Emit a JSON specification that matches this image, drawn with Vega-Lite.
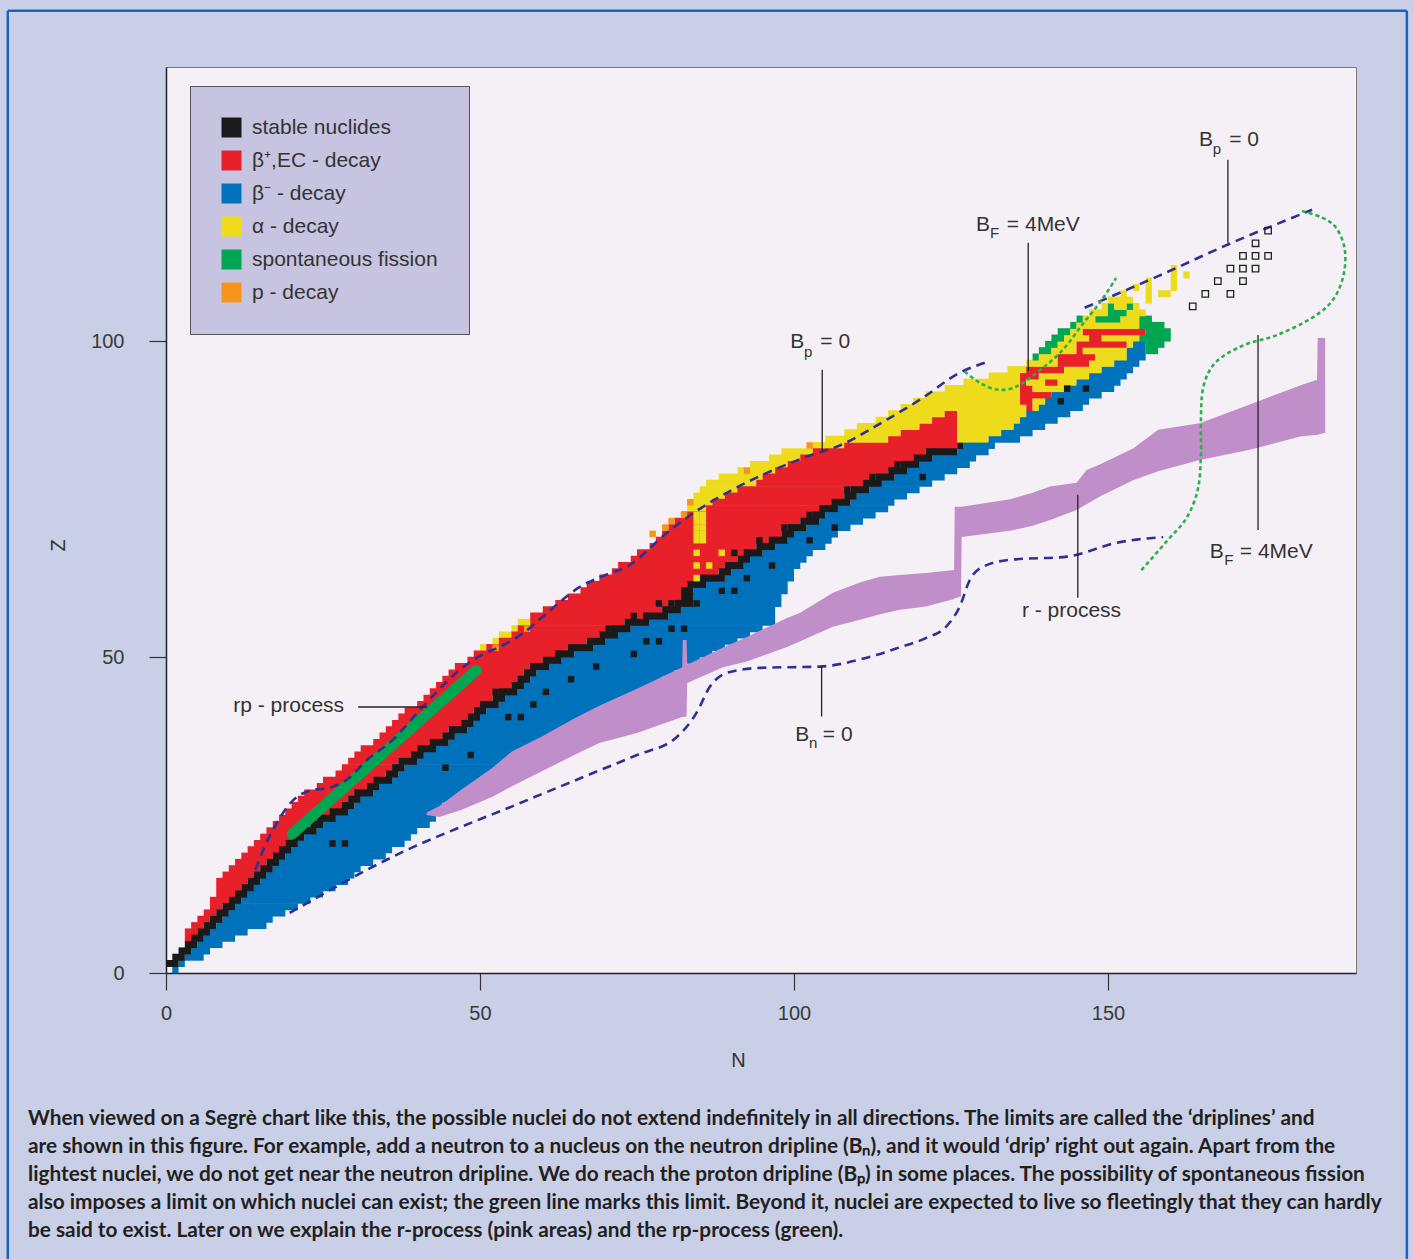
{
"$schema": "https://vega.github.io/schema/vega-lite/v6.json",
"width": 1190, "height": 906,
"autosize": {"type": "none"},
"padding": {"left": 166, "top": 67, "right": 57, "bottom": 286},
"background": "#c8cfe7",
"config": {
 "view": {"fill": "#f5f0f5", "stroke": "#7a7a7a", "strokeWidth": 1},
 "font": "Liberation Sans",
 "axis": {"grid": false, "tickSize": 17, "tickColor": "#333", "tickWidth": 1.2, "domainColor": "#222", "domainWidth": 1.5,
  "labelFontSize": 20, "labelColor": "#3a3a3a", "labelFlush": false, "labelOverlap": false, "labelFont": "Liberation Sans",
  "titleFontSize": 20, "titleFontWeight": "normal", "titleColor": "#333", "titleFont": "Liberation Sans", "zindex": 1},
 "axisX": {"labelPadding": 13, "titleX": 572, "titleY": 87, "titleBaseline": "middle"},
 "axisY": {"labelPadding": 25, "titleX": -108, "titleY": 478, "titleBaseline": "middle", "titleAngle": -90}
},
"datasets": {
"rows": [
{"z":0,"l":1,"r":1,"s":1,"e":1,"m":2},
{"z":1,"l":0,"r":0,"s":0,"e":2,"m":3},
{"z":2,"l":1,"r":1,"s":1,"e":3,"m":6},
{"z":3,"l":2,"r":2,"s":2,"e":4,"m":7},
{"z":4,"l":3,"r":3,"s":3,"e":5,"m":9},
{"z":5,"l":3,"r":3,"s":4,"e":6,"m":11},
{"z":6,"l":3,"r":3,"s":5,"e":7,"m":13},
{"z":7,"l":4,"r":4,"s":6,"e":8,"m":16},
{"z":8,"l":5,"r":5,"s":7,"e":9,"m":17},
{"z":9,"l":6,"r":6,"s":8,"e":10,"m":19},
{"z":10,"l":7,"r":7,"s":9,"e":11,"m":21},
{"z":11,"l":7,"r":7,"s":10,"e":12,"m":23},
{"z":12,"l":8,"r":8,"s":11,"e":13,"m":25},
{"z":13,"l":8,"r":8,"s":12,"e":14,"m":27},
{"z":14,"l":8,"r":8,"s":13,"e":15,"m":29},
{"z":15,"l":9,"r":9,"s":14,"e":16,"m":30},
{"z":16,"l":10,"r":10,"s":15,"e":17,"m":31},
{"z":17,"l":11,"r":11,"s":16,"e":18,"m":33},
{"z":18,"l":12,"r":12,"s":17,"e":19,"m":35},
{"z":19,"l":13,"r":13,"s":18,"e":20,"m":36},
{"z":20,"l":14,"r":14,"s":19,"e":21,"m":38},
{"z":21,"l":15,"r":15,"s":20,"e":22,"m":39},
{"z":22,"l":16,"r":16,"s":21,"e":24,"m":40},
{"z":23,"l":17,"r":17,"s":23,"e":25,"m":42},
{"z":24,"l":18,"r":18,"s":24,"e":27,"m":43},
{"z":25,"l":19,"r":19,"s":26,"e":29,"m":44},
{"z":26,"l":20,"r":20,"s":28,"e":30,"m":44},
{"z":27,"l":21,"r":21,"s":29,"e":31,"m":46},
{"z":28,"l":22,"r":22,"s":30,"e":33,"m":48},
{"z":29,"l":24,"r":24,"s":32,"e":34,"m":49},
{"z":30,"l":25,"r":25,"s":33,"e":36,"m":51},
{"z":31,"l":27,"r":27,"s":35,"e":37,"m":53},
{"z":32,"l":28,"r":28,"s":36,"e":38,"m":55},
{"z":33,"l":29,"r":29,"s":37,"e":40,"m":56},
{"z":34,"l":30,"r":30,"s":39,"e":41,"m":58},
{"z":35,"l":31,"r":31,"s":40,"e":43,"m":60},
{"z":36,"l":33,"r":33,"s":42,"e":45,"m":62},
{"z":37,"l":34,"r":34,"s":44,"e":46,"m":63},
{"z":38,"l":35,"r":35,"s":45,"e":48,"m":65},
{"z":39,"l":36,"r":36,"s":47,"e":49,"m":67},
{"z":40,"l":37,"r":37,"s":48,"e":50,"m":69},
{"z":41,"l":38,"r":38,"s":49,"e":51,"m":70},
{"z":42,"l":40,"r":40,"s":50,"e":53,"m":72},
{"z":43,"l":41,"r":41,"s":52,"e":54,"m":74},
{"z":44,"l":42,"r":42,"s":53,"e":56,"m":76},
{"z":45,"l":43,"r":43,"s":55,"e":57,"m":78},
{"z":46,"l":44,"r":44,"s":56,"e":58,"m":79},
{"z":47,"l":45,"r":45,"s":57,"e":59,"m":81},
{"z":48,"l":46,"r":46,"s":58,"e":61,"m":83},
{"z":49,"l":48,"r":48,"s":60,"e":63,"m":85},
{"z":50,"l":49,"r":49,"s":62,"e":65,"m":87},
{"z":51,"l":50,"r":51,"s":64,"e":68,"m":89},
{"z":52,"l":52,"r":53,"s":67,"e":70,"m":91},
{"z":53,"l":53,"r":55,"s":69,"e":72,"m":93},
{"z":54,"l":55,"r":56,"s":71,"e":74,"m":95},
{"z":55,"l":56,"r":58,"s":73,"e":77,"m":97},
{"z":56,"l":58,"r":58,"s":76,"e":80,"m":97},
{"z":57,"l":60,"r":60,"s":79,"e":82,"m":97},
{"z":58,"l":62,"r":62,"s":81,"e":84,"m":98},
{"z":59,"l":64,"r":64,"s":82,"e":84,"m":98},
{"z":60,"l":66,"r":66,"s":82,"e":84,"m":99},
{"z":61,"l":67,"r":67,"s":83,"e":86,"m":99},
{"z":62,"l":69,"r":69,"s":85,"e":89,"m":100},
{"z":63,"l":71,"r":71,"s":88,"e":90,"m":100},
{"z":64,"l":72,"r":72,"s":89,"e":92,"m":101},
{"z":65,"l":74,"r":74,"s":91,"e":93,"m":102},
{"z":66,"l":75,"r":75,"s":92,"e":95,"m":103},
{"z":67,"l":77,"r":77,"s":94,"e":97,"m":105},
{"z":68,"l":78,"r":78,"s":96,"e":99,"m":106},
{"z":69,"l":79,"r":79,"s":98,"e":100,"m":107},
{"z":70,"l":80,"r":80,"s":99,"e":102,"m":109},
{"z":71,"l":81,"r":81,"s":101,"e":104,"m":111},
{"z":72,"l":82,"r":82,"s":103,"e":105,"m":113},
{"z":73,"l":83,"r":86,"s":104,"e":107,"m":115},
{"z":74,"l":83,"r":87,"s":106,"e":109,"m":116},
{"z":75,"l":84,"r":89,"s":108,"e":110,"m":118},
{"z":76,"l":85,"r":91,"s":109,"e":112,"m":120},
{"z":77,"l":86,"r":94,"s":111,"e":114,"m":122},
{"z":78,"l":88,"r":95,"s":113,"e":116,"m":124},
{"z":79,"l":91,"r":97,"s":115,"e":118,"m":126},
{"z":80,"l":93,"r":99,"s":117,"e":120,"m":128},
{"z":81,"l":96,"r":101,"s":119,"e":122,"m":129},
{"z":82,"l":98,"r":103,"s":121,"e":126,"m":131},
{"z":83,"l":103,"r":108,"s":126,"e":127,"m":132}
],
"segs": [
{"z":84,"a":105,"b":115,"t":"a"},{"z":84,"a":115,"b":126,"t":"r"},{"z":84,"a":126,"b":131,"t":"a"},{"z":84,"a":131,"b":136,"t":"b"},
{"z":85,"a":108,"b":117,"t":"a"},{"z":85,"a":117,"b":126,"t":"r"},{"z":85,"a":126,"b":133,"t":"a"},{"z":85,"a":133,"b":138,"t":"b"},
{"z":86,"a":110,"b":120,"t":"a"},{"z":86,"a":120,"b":126,"t":"r"},{"z":86,"a":126,"b":135,"t":"a"},{"z":86,"a":135,"b":140,"t":"b"},
{"z":87,"a":113,"b":122,"t":"a"},{"z":87,"a":122,"b":126,"t":"r"},{"z":87,"a":126,"b":136,"t":"a"},{"z":87,"a":136,"b":142,"t":"b"},
{"z":88,"a":115,"b":124,"t":"a"},{"z":88,"a":124,"b":126,"t":"r"},{"z":88,"a":126,"b":137,"t":"a"},{"z":88,"a":137,"b":144,"t":"b"},
{"z":89,"a":117,"b":137,"t":"a"},{"z":89,"a":137,"b":138,"t":"r"},{"z":89,"a":138,"b":139,"t":"a"},{"z":89,"a":139,"b":146,"t":"b"},
{"z":90,"a":119,"b":136,"t":"a"},{"z":90,"a":136,"b":138,"t":"r"},{"z":90,"a":138,"b":140,"t":"a"},{"z":90,"a":140,"b":147,"t":"b"},
{"z":91,"a":121,"b":136,"t":"a"},{"z":91,"a":136,"b":141,"t":"r"},{"z":91,"a":141,"b":149,"t":"b"},
{"z":92,"a":124,"b":136,"t":"a"},{"z":92,"a":136,"b":138,"t":"r"},{"z":92,"a":138,"b":143,"t":"a"},{"z":92,"a":143,"b":151,"t":"b"},
{"z":93,"a":127,"b":136,"t":"a"},{"z":93,"a":136,"b":137,"t":"r"},{"z":93,"a":137,"b":140,"t":"a"},{"z":93,"a":140,"b":142,"t":"r"},{"z":93,"a":142,"b":145,"t":"a"},{"z":93,"a":145,"b":152,"t":"b"},
{"z":94,"a":131,"b":136,"t":"a"},{"z":94,"a":136,"b":139,"t":"r"},{"z":94,"a":139,"b":147,"t":"a"},{"z":94,"a":147,"b":153,"t":"b"},
{"z":95,"a":134,"b":137,"t":"a"},{"z":95,"a":137,"b":143,"t":"r"},{"z":95,"a":143,"b":149,"t":"a"},{"z":95,"a":149,"b":154,"t":"b"},
{"z":96,"a":137,"b":142,"t":"a"},{"z":96,"a":142,"b":147,"t":"r"},{"z":96,"a":147,"b":151,"t":"a"},{"z":96,"a":151,"b":155,"t":"b"},
{"z":97,"a":138,"b":139,"t":"f"},{"z":97,"a":139,"b":142,"t":"a"},{"z":97,"a":142,"b":148,"t":"r"},{"z":97,"a":148,"b":153,"t":"a"},{"z":97,"a":153,"b":156,"t":"b"},
{"z":98,"a":139,"b":141,"t":"f"},{"z":98,"a":141,"b":145,"t":"a"},{"z":98,"a":145,"b":146,"t":"r"},{"z":98,"a":146,"b":153,"t":"a"},{"z":98,"a":153,"b":156,"t":"b"},{"z":98,"a":156,"b":158,"t":"f"},
{"z":99,"a":140,"b":142,"t":"f"},{"z":99,"a":142,"b":145,"t":"a"},{"z":99,"a":145,"b":153,"t":"r"},{"z":99,"a":153,"b":154,"t":"a"},{"z":99,"a":154,"b":156,"t":"b"},{"z":99,"a":156,"b":159,"t":"f"},
{"z":100,"a":141,"b":143,"t":"f"},{"z":100,"a":143,"b":147,"t":"a"},{"z":100,"a":147,"b":149,"t":"r"},{"z":100,"a":149,"b":155,"t":"a"},{"z":100,"a":155,"b":160,"t":"f"},
{"z":101,"a":142,"b":144,"t":"f"},{"z":101,"a":144,"b":146,"t":"a"},{"z":101,"a":146,"b":156,"t":"r"},{"z":101,"a":156,"b":160,"t":"f"},
{"z":102,"a":144,"b":145,"t":"f"},{"z":102,"a":145,"b":155,"t":"a"},{"z":102,"a":155,"b":159,"t":"f"},
{"z":103,"a":145,"b":146,"t":"f"},{"z":103,"a":146,"b":148,"t":"a"},{"z":103,"a":148,"b":152,"t":"f"},{"z":103,"a":152,"b":155,"t":"a"},{"z":103,"a":155,"b":157,"t":"f"},
{"z":104,"a":147,"b":150,"t":"a"},{"z":104,"a":150,"b":153,"t":"f"},{"z":104,"a":153,"b":156,"t":"a"},
{"z":105,"a":149,"b":150,"t":"a"},{"z":105,"a":150,"b":151,"t":"f"},{"z":105,"a":151,"b":153,"t":"a"},{"z":105,"a":153,"b":154,"t":"f"},{"z":105,"a":154,"b":155,"t":"a"},
{"z":106,"a":150,"b":154,"t":"a"},{"z":106,"a":156,"b":157,"t":"a"},
{"z":107,"a":152,"b":153,"t":"a"},{"z":107,"a":156,"b":157,"t":"a"},{"z":107,"a":158,"b":160,"t":"a"},
{"z":108,"a":154,"b":155,"t":"a"},{"z":108,"a":156,"b":157,"t":"a"},{"z":108,"a":160,"b":161,"t":"a"},
{"z":109,"a":156,"b":157,"t":"a"},{"z":109,"a":160,"b":161,"t":"a"},
{"z":110,"a":160,"b":161,"t":"a"},{"z":110,"a":162,"b":163,"t":"a"},
{"z":111,"a":160,"b":161,"t":"a"}
],
"cells": [
{"n":26,"z":20,"t":"s"},{"n":28,"z":20,"t":"s"},{"n":26,"z":24,"t":"s"},{"n":28,"z":26,"t":"s"},{"n":30,"z":28,"t":"s"},
{"n":40,"z":34,"t":"s"},{"n":42,"z":36,"t":"s"},{"n":44,"z":32,"t":"s"},{"n":48,"z":34,"t":"s"},{"n":46,"z":38,"t":"s"},
{"n":50,"z":42,"t":"s"},{"n":52,"z":44,"t":"s"},{"n":54,"z":40,"t":"s"},{"n":56,"z":40,"t":"s"},{"n":56,"z":46,"t":"s"},
{"n":58,"z":42,"t":"s"},{"n":58,"z":48,"t":"s"},{"n":60,"z":44,"t":"s"},{"n":62,"z":50,"t":"s"},{"n":64,"z":46,"t":"s"},
{"n":68,"z":48,"t":"s"},{"n":68,"z":52,"t":"s"},{"n":70,"z":54,"t":"s"},{"n":72,"z":54,"t":"s"},{"n":74,"z":50,"t":"s"},
{"n":74,"z":56,"t":"s"},{"n":76,"z":56,"t":"s"},{"n":76,"z":52,"t":"s"},{"n":78,"z":52,"t":"s"},{"n":78,"z":58,"t":"s"},
{"n":80,"z":58,"t":"s"},{"n":80,"z":54,"t":"s"},{"n":82,"z":54,"t":"s"},{"n":84,"z":58,"t":"s"},{"n":88,"z":60,"t":"s"},
{"n":90,"z":60,"t":"s"},{"n":92,"z":62,"t":"s"},{"n":90,"z":66,"t":"s"},{"n":92,"z":66,"t":"s"},{"n":94,"z":68,"t":"s"},
{"n":96,"z":68,"t":"s"},{"n":96,"z":64,"t":"s"},{"n":98,"z":70,"t":"s"},{"n":102,"z":72,"t":"s"},{"n":102,"z":68,"t":"s"},
{"n":106,"z":74,"t":"s"},{"n":106,"z":70,"t":"s"},{"n":108,"z":76,"t":"s"},{"n":112,"z":78,"t":"s"},{"n":116,"z":80,"t":"s"},
{"n":120,"z":78,"t":"s"},{"n":142,"z":90,"t":"s"},{"n":143,"z":92,"t":"s"},{"n":146,"z":92,"t":"s"},
{"n":84,"z":66,"t":"a"},{"n":88,"z":66,"t":"a"},{"n":84,"z":64,"t":"a"},{"n":86,"z":64,"t":"a"},{"n":84,"z":62,"t":"a"},
{"n":84,"z":68,"t":"a"},{"n":85,"z":68,"t":"a"},{"n":84,"z":69,"t":"a"},{"n":85,"z":69,"t":"a"},{"n":84,"z":70,"t":"a"},{"n":85,"z":70,"t":"a"},{"n":84,"z":71,"t":"a"},{"n":85,"z":71,"t":"a"},{"n":84,"z":72,"t":"a"},{"n":85,"z":72,"t":"a"},
{"n":52,"z":51,"t":"p"},{"n":57,"z":54,"t":"p"},{"n":77,"z":69,"t":"p"},{"n":79,"z":70,"t":"p"},{"n":80,"z":71,"t":"p"},
{"n":82,"z":72,"t":"p"},{"n":83,"z":74,"t":"p"},{"n":92,"z":79,"t":"p"},{"n":102,"z":83,"t":"p"}
],
"rp": [
{"n":41.5,"lo":25.0,"hi":25.4},{"n":43.5,"lo":24.7,"hi":26.4},{"n":47,"lo":25.8,"hi":29},{"n":52,"lo":27.9,"hi":32.5},
{"n":55,"lo":29.5,"hi":35},{"n":60,"lo":32,"hi":37.5},{"n":65,"lo":34.5,"hi":40.3},{"n":69,"lo":36.4,"hi":42.3},
{"n":75,"lo":38,"hi":45},{"n":82.2,"lo":40.5,"hi":48.4},{"n":82.3,"lo":40.5,"hi":52.7},{"n":82.9,"lo":40.6,"hi":52.7},
{"n":83,"lo":45.9,"hi":48.8},{"n":88.7,"lo":48.4,"hi":51.5},{"n":92.5,"lo":49.3,"hi":53.2},{"n":98.9,"lo":51.6,"hi":56.2},
{"n":101,"lo":52.5,"hi":57},{"n":106.2,"lo":54.8,"hi":60.2},{"n":110.5,"lo":55.9,"hi":61.8},{"n":113.7,"lo":56.8,"hi":62.7},
{"n":116.9,"lo":57.5,"hi":63},{"n":121,"lo":58,"hi":63.3},{"n":125.5,"lo":59.2,"hi":63.8},{"n":125.6,"lo":59.3,"hi":73.8},
{"n":126.6,"lo":59.6,"hi":73.8},{"n":126.7,"lo":69,"hi":73.8},{"n":134.4,"lo":70,"hi":75},{"n":138,"lo":70.8,"hi":76},
{"n":140.8,"lo":71.7,"hi":77},{"n":145,"lo":73.3,"hi":77.6},{"n":146.6,"lo":74.2,"hi":79.6},{"n":148.7,"lo":75.4,"hi":80.5},
{"n":154,"lo":78,"hi":83},{"n":158,"lo":79.4,"hi":86},{"n":164.6,"lo":81.2,"hi":87},{"n":172.6,"lo":82.8,"hi":90},
{"n":180.6,"lo":84.9,"hi":93},{"n":183.3,"lo":85.2,"hi":93.9},{"n":183.4,"lo":85.2,"hi":100.5},{"n":184.6,"lo":85.5,"hi":100.5}
],
"drip": [
{"g":"A","i":0,"n":14.2,"z":16.3},{"g":"A","i":1,"n":15.5,"z":19.5},{"g":"A","i":2,"n":17.5,"z":23.5},{"g":"A","i":3,"n":20.3,"z":27.4},
{"g":"A","i":4,"n":22.4,"z":28.7},{"g":"A","i":5,"n":26.6,"z":29.5},{"g":"A","i":6,"n":28.8,"z":30.6},{"g":"A","i":7,"n":32,"z":33.7},
{"g":"A","i":8,"n":36.1,"z":36.9},{"g":"A","i":9,"n":40.4,"z":41.6},{"g":"A","i":10,"n":43.6,"z":45},{"g":"A","i":11,"n":46.8,"z":48},
{"g":"A","i":12,"n":50,"z":50.2},{"g":"A","i":13,"n":53.5,"z":51.8},{"g":"A","i":14,"n":56.9,"z":53.8},{"g":"A","i":15,"n":60.7,"z":57},
{"g":"A","i":16,"n":65.9,"z":61.1},{"g":"A","i":17,"n":70,"z":63},{"g":"A","i":18,"n":73.4,"z":64.3},{"g":"A","i":19,"n":79.8,"z":69.7},
{"g":"A","i":20,"n":84,"z":72.8},{"g":"A","i":21,"n":89.3,"z":76},{"g":"A","i":22,"n":96.7,"z":79.6},{"g":"A","i":23,"n":102,"z":81.7},
{"g":"A","i":24,"n":107.3,"z":83.5},{"g":"A","i":25,"n":114.8,"z":87.6},{"g":"A","i":26,"n":120,"z":90.7},{"g":"A","i":27,"n":126.4,"z":95},
{"g":"A","i":28,"n":131,"z":96.8},
{"g":"B","i":0,"n":146.3,"z":105.3},{"g":"B","i":1,"n":158,"z":110.3},{"g":"B","i":2,"n":169.1,"z":115.3},{"g":"B","i":3,"n":182.5,"z":120.8},
{"g":"C","i":0,"n":19.7,"z":9.5},{"g":"C","i":1,"n":36.1,"z":18.4},{"g":"C","i":2,"n":56.4,"z":26.9},{"g":"C","i":3,"n":69.1,"z":32.1},
{"g":"C","i":4,"n":75,"z":34.5},{"g":"C","i":5,"n":81.4,"z":37.4},{"g":"C","i":6,"n":84.5,"z":41.2},{"g":"C","i":7,"n":86.6,"z":45.3},
{"g":"C","i":8,"n":89.3,"z":47.5},{"g":"C","i":9,"n":94.6,"z":48.3},{"g":"C","i":10,"n":104.1,"z":48.5},{"g":"C","i":11,"n":111.6,"z":49.9},
{"g":"C","i":12,"n":117,"z":51.6},{"g":"C","i":13,"n":121,"z":53},{"g":"C","i":14,"n":124.4,"z":55},{"g":"C","i":15,"n":126.4,"z":58},
{"g":"C","i":16,"n":128,"z":62.2},{"g":"C","i":17,"n":130.1,"z":64.3},{"g":"C","i":18,"n":134.4,"z":65.4},{"g":"C","i":19,"n":143.5,"z":65.9},
{"g":"C","i":20,"n":151.4,"z":68.1},{"g":"C","i":21,"n":158.8,"z":69}
],
"fis": [
{"g":"F1","i":0,"n":127.2,"z":95.2},{"g":"F1","i":1,"n":129.3,"z":93.6},{"g":"F1","i":2,"n":132,"z":92.4},{"g":"F1","i":3,"n":134.9,"z":92.6},
{"g":"F1","i":4,"n":138,"z":94.5},{"g":"F1","i":5,"n":142.5,"z":98.3},{"g":"F1","i":6,"n":145.9,"z":102.6},{"g":"F1","i":7,"n":149,"z":106.5},
{"g":"F1","i":8,"n":151.3,"z":110},
{"g":"F2","i":0,"n":180.9,"z":120.6},{"g":"F2","i":1,"n":184,"z":119.6},{"g":"F2","i":2,"n":186.3,"z":118},{"g":"F2","i":3,"n":187.7,"z":114.6},
{"g":"F2","i":4,"n":187.5,"z":110.4},{"g":"F2","i":5,"n":185.8,"z":106.5},{"g":"F2","i":6,"n":182.5,"z":103.7},{"g":"F2","i":7,"n":177,"z":101},
{"g":"F2","i":8,"n":171.7,"z":99.4},{"g":"F2","i":9,"n":167.2,"z":96.7},{"g":"F2","i":10,"n":165.2,"z":92.8},{"g":"F2","i":11,"n":164.8,"z":87.4},
{"g":"F2","i":12,"n":164.8,"z":81.9},{"g":"F2","i":13,"n":164.3,"z":76.5},{"g":"F2","i":14,"n":162.5,"z":72},{"g":"F2","i":15,"n":159.5,"z":68.5},
{"g":"F2","i":16,"n":155.1,"z":63.5}
],
"rpb": [{"n":20.1,"z":22.0},{"n":49.4,"z":47.9}],
"pred": [
{"n":163,"z":105},{"n":165,"z":107},{"n":169,"z":107},{"n":167,"z":109},{"n":171,"z":109},{"n":169,"z":111},{"n":171,"z":111},
{"n":173,"z":111},{"n":171,"z":113},{"n":173,"z":113},{"n":175,"z":113},{"n":173,"z":115},{"n":175,"z":117}
],
"leaders": [
{"n":104.5,"z":95.5,"n2":104.5,"z2":82.5},{"n":137.3,"z":115.6,"n2":137.3,"z2":95.3},{"n":169.1,"z":128.7,"n2":169.1,"z2":115.6},
{"n":173.9,"z":101.0,"n2":173.9,"z2":70.1},{"n":145.2,"z":75.7,"n2":145.2,"z2":59.4},{"n":104.4,"z":48.6,"n2":104.4,"z2":40.6},
{"n":30.6,"z":42.1,"n2":41.6,"z2":42.1}
],
"frame": [
{"n":-25.2,"z":152.3,"n2":-25.2,"z2":-46},{"n":-25.2,"z":152.3,"n2":197.6,"z2":152.3},{"n":197.6,"z":152.3,"n2":197.6,"z2":-46}
],
"notes": [
{"n":99.4,"z":99.9,"t":"B","k":"m"},{"n":101.6,"z":98.3,"t":"p","k":"s"},{"n":104.2,"z":99.9,"t":"= 0","k":"m"},
{"n":129.0,"z":118.4,"t":"B","k":"m"},{"n":131.2,"z":117.1,"t":"F","k":"s"},{"n":133.9,"z":118.4,"t":"= 4MeV","k":"m"},
{"n":164.5,"z":131.9,"t":"B","k":"m"},{"n":166.7,"z":130.4,"t":"p","k":"s"},{"n":169.3,"z":131.9,"t":"= 0","k":"m"},
{"n":166.2,"z":66.7,"t":"B","k":"m"},{"n":168.5,"z":65.4,"t":"F","k":"s"},{"n":171.0,"z":66.7,"t":"= 4MeV","k":"m"},
{"n":136.3,"z":57.3,"t":"r - process","k":"m"},
{"n":100.2,"z":37.7,"t":"B","k":"m"},{"n":102.4,"z":36.4,"t":"n","k":"s"},{"n":104.6,"z":37.7,"t":"= 0","k":"m"},
{"n":10.7,"z":42.2,"t":"rp - process","k":"m"}
]
},
"layer": [
{"data": {"name": "rows"}, "mark": {"type": "rect", "height": 7.0, "yOffset": -3.16},
 "encoding": {
  "x": {"field": "l", "type": "quantitative", "title": "N", "scale": {"domain": [0, 189.5], "nice": false, "zero": false}, "axis": {"values": [0, 50, 100, 150], "orient": "bottom"}},
  "x2": {"field": "r"},
  "y": {"field": "z", "type": "quantitative", "title": "Z", "scale": {"domain": [0, 143.4], "nice": false, "zero": false}, "axis": {"values": [0, 50, 100], "orient": "left"}},
  "color": {"datum": "a", "scale": {"domain": ["s","r","b","a","f","p"], "range": ["#1a1a1a","#e8202a","#0072bc","#eedc1c","#00a651","#f7941d"]},
   "legend": {"title": null, "orient": "none", "legendX": 24, "legendY": 19, "direction": "vertical", "symbolType": "square", "symbolSize": 400,
    "symbolStrokeWidth": 0, "symbolOpacity": 1, "labelFontSize": 21, "labelFont": "Liberation Sans", "labelColor": "#333", "labelOffset": 10, "labelLimit": 400, "rowPadding": 11,
    "padding": 31, "fillColor": "#c6c4e0", "strokeColor": "#555",
    "labelExpr": "datum.value=='s'?'stable nuclides':datum.value=='r'?'β⁺,EC - decay':datum.value=='b'?'β⁻ - decay':datum.value=='a'?'α - decay':datum.value=='f'?'spontaneous fission':'p - decay'"}}}},
{"data": {"name": "rows"}, "mark": {"type": "rect", "height": 7.0, "yOffset": -3.16},
 "encoding": {
  "x": {"field": "r", "type": "quantitative", "title": "N", "scale": {"domain": [0, 189.5], "nice": false, "zero": false}},
  "x2": {"field": "s"},
  "y": {"field": "z", "type": "quantitative", "title": "Z", "scale": {"domain": [0, 143.4], "nice": false, "zero": false}},
  "color": {"datum": "r", "scale": {"domain": ["s","r","b","a","f","p"], "range": ["#1a1a1a","#e8202a","#0072bc","#eedc1c","#00a651","#f7941d"]}, "legend": {"title": null}}}},
{"data": {"name": "rows"}, "mark": {"type": "rect", "height": 7.0, "yOffset": -3.16},
 "encoding": {
  "x": {"field": "e", "type": "quantitative", "title": "N", "scale": {"domain": [0, 189.5], "nice": false, "zero": false}},
  "x2": {"field": "m"},
  "y": {"field": "z", "type": "quantitative", "title": "Z", "scale": {"domain": [0, 143.4], "nice": false, "zero": false}},
  "color": {"datum": "b", "scale": {"domain": ["s","r","b","a","f","p"], "range": ["#1a1a1a","#e8202a","#0072bc","#eedc1c","#00a651","#f7941d"]}, "legend": {"title": null}}}},
{"data": {"name": "rows"}, "mark": {"type": "rect", "height": 7.0, "yOffset": -3.16},
 "encoding": {
  "x": {"field": "s", "type": "quantitative", "title": "N", "scale": {"domain": [0, 189.5], "nice": false, "zero": false}},
  "x2": {"field": "e"},
  "y": {"field": "z", "type": "quantitative", "title": "Z", "scale": {"domain": [0, 143.4], "nice": false, "zero": false}},
  "color": {"datum": "s", "scale": {"domain": ["s","r","b","a","f","p"], "range": ["#1a1a1a","#e8202a","#0072bc","#eedc1c","#00a651","#f7941d"]}, "legend": {"title": null}}}},
{"data": {"name": "segs"}, "mark": {"type": "rect", "height": 7.0, "yOffset": -3.16},
 "encoding": {
  "x": {"field": "a", "type": "quantitative", "title": "N", "scale": {"domain": [0, 189.5], "nice": false, "zero": false}},
  "x2": {"field": "b"},
  "y": {"field": "z", "type": "quantitative", "title": "Z", "scale": {"domain": [0, 143.4], "nice": false, "zero": false}},
  "color": {"field": "t", "type": "nominal", "title": null, "scale": {"domain": ["s","r","b","a","f","p"], "range": ["#1a1a1a","#e8202a","#0072bc","#eedc1c","#00a651","#f7941d"]}, "legend": {"title": null}}}},
{"data": {"name": "cells"}, "mark": {"type": "rect", "width": 6.4, "height": 6.5, "xOffset": 3.14, "yOffset": -3.16},
 "encoding": {
  "x": {"field": "n", "type": "quantitative", "title": "N", "scale": {"domain": [0, 189.5], "nice": false, "zero": false}},
  "y": {"field": "z", "type": "quantitative", "title": "Z", "scale": {"domain": [0, 143.4], "nice": false, "zero": false}},
  "color": {"field": "t", "type": "nominal", "title": null, "scale": {"domain": ["s","r","b","a","f","p"], "range": ["#1a1a1a","#e8202a","#0072bc","#eedc1c","#00a651","#f7941d"]}, "legend": {"title": null}}}},
{"data": {"name": "rp"}, "mark": {"type": "area", "color": "#c08ec8", "interpolate": "linear"},
 "encoding": {
  "x": {"field": "n", "type": "quantitative", "title": "N", "scale": {"domain": [0, 189.5], "nice": false, "zero": false}},
  "y": {"field": "lo", "type": "quantitative", "title": "Z", "scale": {"domain": [0, 143.4], "nice": false, "zero": false}},
  "y2": {"field": "hi"}}},
{"data": {"name": "rpb"}, "mark": {"type": "line", "color": "#00a651", "strokeWidth": 11, "strokeCap": "round"},
 "encoding": {
  "x": {"field": "n", "type": "quantitative", "title": "N", "scale": {"domain": [0, 189.5], "nice": false, "zero": false}},
  "y": {"field": "z", "type": "quantitative", "title": "Z", "scale": {"domain": [0, 143.4], "nice": false, "zero": false}}}},
{"data": {"name": "drip"}, "mark": {"type": "line", "color": "#2e3192", "strokeWidth": 2.6, "strokeDash": [9, 6], "interpolate": "monotone"},
 "encoding": {
  "x": {"field": "n", "type": "quantitative", "title": "N", "scale": {"domain": [0, 189.5], "nice": false, "zero": false}},
  "y": {"field": "z", "type": "quantitative", "title": "Z", "scale": {"domain": [0, 143.4], "nice": false, "zero": false}},
  "detail": {"field": "g"}, "order": {"field": "i"}}},
{"data": {"name": "fis"}, "mark": {"type": "line", "color": "#2db04b", "strokeWidth": 2.6, "strokeDash": [4, 3], "interpolate": "cardinal"},
 "encoding": {
  "x": {"field": "n", "type": "quantitative", "title": "N", "scale": {"domain": [0, 189.5], "nice": false, "zero": false}},
  "y": {"field": "z", "type": "quantitative", "title": "Z", "scale": {"domain": [0, 143.4], "nice": false, "zero": false}},
  "detail": {"field": "g"}, "order": {"field": "i"}}},
{"data": {"name": "pred"}, "mark": {"type": "point", "shape": "square", "filled": false, "size": 42, "stroke": "#222", "strokeWidth": 1.3, "opacity": 1, "xOffset": 3.14, "yOffset": -3.16},
 "encoding": {
  "x": {"field": "n", "type": "quantitative", "title": "N", "scale": {"domain": [0, 189.5], "nice": false, "zero": false}},
  "y": {"field": "z", "type": "quantitative", "title": "Z", "scale": {"domain": [0, 143.4], "nice": false, "zero": false}}}},
{"data": {"name": "leaders"}, "mark": {"type": "rule", "color": "#222", "strokeWidth": 1.3},
 "encoding": {
  "x": {"field": "n", "type": "quantitative", "title": "N", "scale": {"domain": [0, 189.5], "nice": false, "zero": false}},
  "x2": {"field": "n2"},
  "y": {"field": "z", "type": "quantitative", "title": "Z", "scale": {"domain": [0, 143.4], "nice": false, "zero": false}},
  "y2": {"field": "z2"}}},
{"data": {"name": "frame"}, "mark": {"type": "rule", "color": "#1a64bd", "strokeWidth": 2.5},
 "encoding": {
  "x": {"field": "n", "type": "quantitative", "title": "N", "scale": {"domain": [0, 189.5], "nice": false, "zero": false}},
  "x2": {"field": "n2"},
  "y": {"field": "z", "type": "quantitative", "title": "Z", "scale": {"domain": [0, 143.4], "nice": false, "zero": false}},
  "y2": {"field": "z2"}}},
{"data": {"name": "notes"}, "mark": {"type": "text", "align": "left", "baseline": "middle", "font": "Liberation Sans", "color": "#333"},
 "encoding": {
  "x": {"field": "n", "type": "quantitative", "title": "N", "scale": {"domain": [0, 189.5], "nice": false, "zero": false}},
  "y": {"field": "z", "type": "quantitative", "title": "Z", "scale": {"domain": [0, 143.4], "nice": false, "zero": false}},
  "text": {"field": "t"},
  "size": {"field": "k", "type": "nominal", "scale": {"domain": ["m", "s"], "range": [21, 15]}, "legend": null}}},
{"data": {"values": [{"c": "When viewed on a Segrè chart like this, the possible nuclei do not extend indefinitely in all directions.  The limits are called the ‘driplines’ and\nare shown in this figure. For example, add a neutron to a nucleus on the neutron dripline (Bₙ), and it would ‘drip’ right out again. Apart from  the\nlightest nuclei, we do not get near the neutron dripline. We do reach  the proton dripline (Bₚ) in some places.  The possibility of spontaneous fission\nalso imposes a limit on which nuclei can exist; the green line marks this limit. Beyond it, nuclei are expected to live so fleetingly that they can hardly\nbe said to exist. Later on we explain the r-process (pink areas) and the rp-process (green)."}]},
 "mark": {"type": "text", "align": "left", "baseline": "top", "lineBreak": "\n", "lineHeight": 28, "font": "Lato", "fontSize": 20.8, "fontWeight": "bold", "color": "#231f20"},
 "encoding": {
  "x": {"datum": -21.98, "type": "quantitative", "scale": {"domain": [0, 189.5], "nice": false, "zero": false}},
  "y": {"datum": -21.58, "type": "quantitative", "scale": {"domain": [0, 143.4], "nice": false, "zero": false}},
  "text": {"field": "c"}}}
]
}
